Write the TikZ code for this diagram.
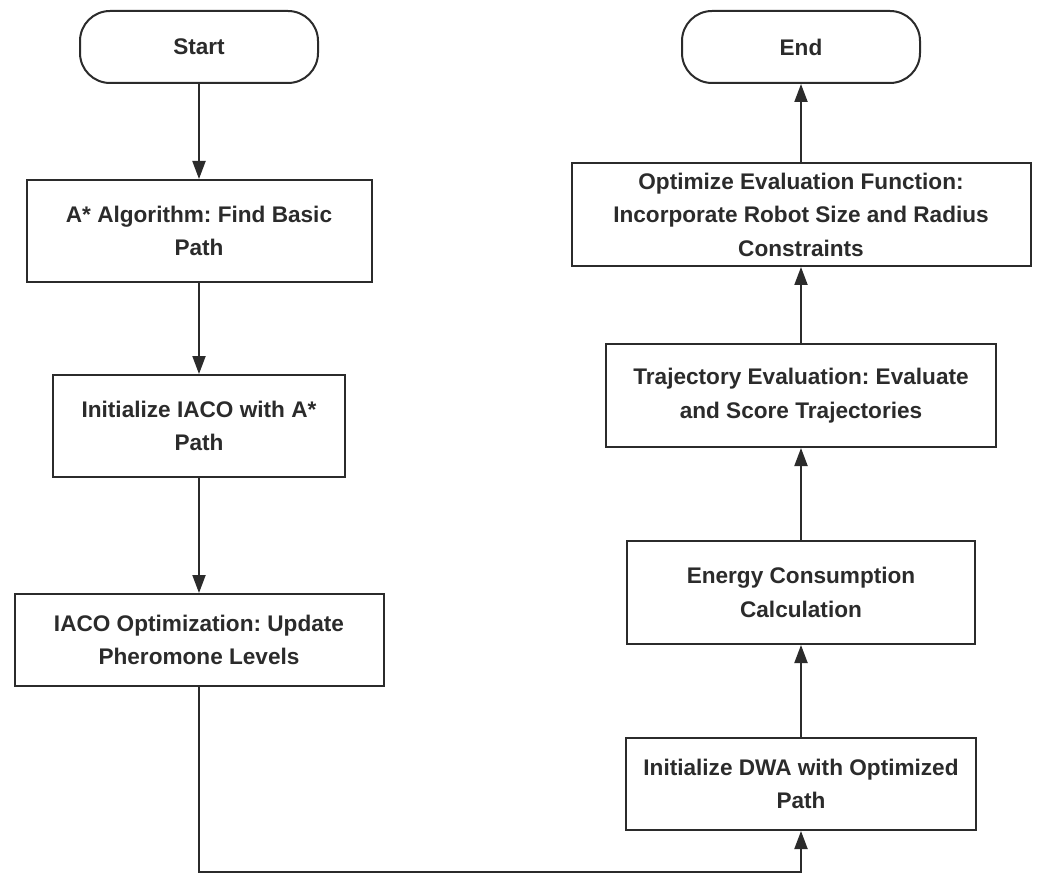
\documentclass[tikz,border=0pt]{standalone}
\usepackage{fontspec}
\setmainfont{Liberation Sans}
\usetikzlibrary{arrows.meta}
\definecolor{ink}{HTML}{2B2B2B}
\frenchspacing
\begin{document}
\begin{tikzpicture}[x=1pt,y=-1pt,
  base/.style={draw=ink, line width=2pt, text=ink, align=center, inner sep=0pt,
    font=\fontsize{22.6}{33.5}\selectfont\bfseries},
  term/.style={base, rounded corners=30pt},
  proc/.style={base},
  arr/.style={draw=ink, line width=2pt, -{Triangle[length=18pt,width=13pt]}}]
\useasboundingbox (0,0) rectangle (1038,874);
% left column
\node[term, minimum width=238pt, minimum height=72pt] (start) at (199,47) {Start};
\node[proc, minimum width=345pt, minimum height=102pt] (astar) at (199,231) {A* Algorithm: Find Basic\\Path};
\node[proc, minimum width=292pt, minimum height=102pt] (iacoinit) at (199,426) {Initialize IACO with A*\\Path};
\node[proc, minimum width=369pt, minimum height=92pt] (iacoopt) at (199,640) {IACO Optimization: Update\\Pheromone Levels};
% right column
\node[term, minimum width=238pt, minimum height=72pt] (end) at (801,47) {End};
\node[proc, minimum width=459pt, minimum height=103pt] (evalopt) at (801,214.5) {Optimize Evaluation Function:\\Incorporate Robot Size and Radius\\Constraints};
\node[proc, minimum width=390pt, minimum height=103pt] (traj) at (801,395.5) {Trajectory Evaluation: Evaluate\\and Score Trajectories};
\node[proc, minimum width=348pt, minimum height=103pt] (energy) at (801,592.5) {Energy Consumption\\Calculation};
\node[proc, minimum width=350pt, minimum height=92pt] (dwa) at (801,784) {Initialize DWA with Optimized\\Path};
\coordinate (turn) at (199,872);
% connectors
\draw[arr] (start) -- (astar);
\draw[arr] (astar) -- (iacoinit);
\draw[arr] (iacoinit) -- (iacoopt);
\draw[arr] (iacoopt.south) -- (turn) -| (dwa.south);
\draw[arr] (dwa) -- (energy);
\draw[arr] (energy) -- (traj);
\draw[arr] (traj) -- (evalopt);
\draw[arr] (evalopt) -- (end);
\end{tikzpicture}
\end{document}
